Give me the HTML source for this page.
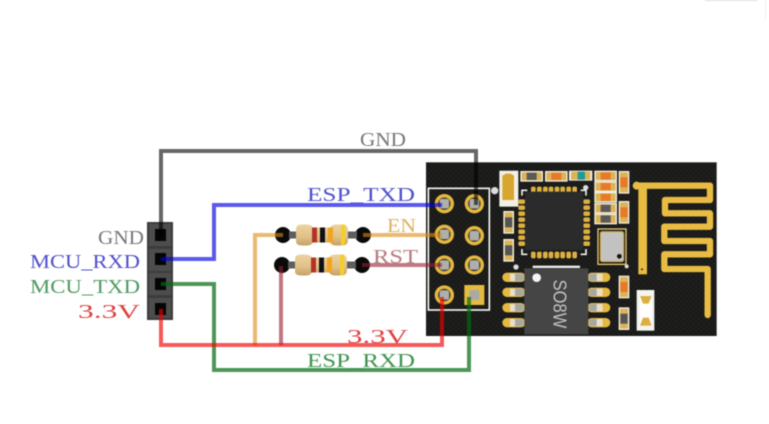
<!DOCTYPE html>
<html><head><meta charset="utf-8"><style>
html,body{margin:0;padding:0;background:#fff}
svg{display:block;filter:blur(.4px)}
text{font-family:"Liberation Serif",serif;font-size:20px}
.w{fill:none;stroke-width:4;stroke-linejoin:miter}
</style></head><body>
<svg width="769" height="424" viewBox="0 0 769 424" xmlns="http://www.w3.org/2000/svg">
<defs>
<pattern id="grid" width="15" height="15" patternUnits="userSpaceOnUse"><rect width="15" height="15" fill="#191917"/><rect width="7" height="7" fill="#20201e"/><rect x="8" y="8" width="7" height="7" fill="#20201e"/></pattern>
<linearGradient id="tan" x1="0" y1="0" x2="0" y2="1"><stop offset="0" stop-color="#ecd3a0"/><stop offset=".6" stop-color="#e0c188"/><stop offset="1" stop-color="#c4a067"/></linearGradient>
<g id="ring"><circle r="29" fill="#e6b93f"/><circle r="19" fill="#4a463c"/><rect x="-14" y="-14" width="28" height="28" rx="6" fill="#b0b0ab"/></g>
<g id="smd"><rect x="-16" y="-34" width="32" height="68" fill="#f2efe6"/><rect x="-12" y="-30" width="24" height="60" fill="#dcb456"/><rect x="-11" y="-15" width="22" height="30" fill="#555"/></g>
<g id="smh"><rect x="-34" y="-16" width="68" height="32" fill="#f2efe6"/><rect x="-30" y="-12" width="60" height="24" fill="#dcb456"/><rect x="-15" y="-11" width="30" height="22" fill="#5a5a58"/></g>
<g id="smo"><rect x="-34" y="-16" width="68" height="32" fill="#f2efe6"/><rect x="-30" y="-12" width="60" height="24" fill="#dcb456"/><rect x="-15" y="-11" width="30" height="22" fill="#e67a28"/></g>
<g id="smv"><rect x="-16" y="-34" width="32" height="68" fill="#f2efe6"/><rect x="-12" y="-30" width="24" height="60" fill="#dcb456"/><rect x="-11" y="-15" width="22" height="30" fill="#e67a28"/></g>
<g id="pinL"><rect x="-33" y="-14" width="70" height="28" rx="14" fill="#e6b93f"/><rect x="-10" y="-11" width="40" height="22" fill="#e8dfc8"/><rect x="5" y="-11" width="25" height="22" fill="#a8a8a2"/></g>
<g id="pinR"><rect x="-37" y="-14" width="70" height="28" rx="14" fill="#e6b93f"/><rect x="-30" y="-11" width="40" height="22" fill="#e8dfc8"/><rect x="-30" y="-11" width="22" height="22" fill="#a8a8a2"/></g>
<g id="res">
<circle cx="-12" r="8" fill="#0a0a0a"/><circle cx="68" r="8" fill="#0a0a0a"/>
<rect x="-6" y="-3.5" width="68" height="7" fill="#5e5e5e"/>
<path d="M1 -6 Q1 -10.5 7 -10.5 H12 Q16 -10.5 18 -7.5 H35 Q37 -10.5 41 -10.5 H47 Q53 -10.5 53 -5 V5 Q53 10.5 47 10.5 H41 Q37 10.5 35 7.5 H18 Q16 10.5 12 10.5 H7 Q1 10.5 1 6Z" fill="url(#tan)"/>
<rect x="17" y="-7.5" width="5" height="15" fill="#b5322a"/>
<rect x="25" y="-7.5" width="5" height="15" fill="#111"/>
<rect x="33" y="-7.5" width="5" height="15" fill="#f2a51e"/>
<rect x="46" y="-10.5" width="4" height="21" fill="#f4cf2a"/>
</g>
</defs>

<line x1="705" y1="0" x2="757" y2="0" stroke="#ddd" stroke-width="2"/>
<line x1="765.5" y1="0" x2="765.5" y2="20" stroke="#f0f0f0"/>

<!-- Board (zoom coordinates) -->
<g transform="translate(420 155) scale(.33333)">
<rect x="18" y="22" width="872" height="521" fill="url(#grid)"/>
<rect x="25" y="100" width="183" height="365" fill="none" stroke="#f4f4f0" stroke-width="5"/>
<circle cx="224" cy="107" r="11" fill="#ddd"/>
<use href="#ring" x="73" y="146"/><use href="#ring" x="163" y="146"/>
<use href="#ring" x="73" y="238"/><use href="#ring" x="163" y="242"/>
<use href="#ring" x="73" y="330"/><use href="#ring" x="163" y="330"/>
<use href="#ring" x="73" y="420"/>
<rect x="133" y="390" width="60" height="60" fill="#e6b93f"/><rect x="148" y="405" width="30" height="30" rx="6" fill="#a9a9a5"/>

<rect x="238" y="47" width="57" height="108" fill="#f2efe6"/>
<path d="M247 62 L258 56 H272 L282 62 V135 H247Z" fill="#d8a530"/>
<use href="#smh" x="335" y="64"/><use href="#smo" x="409" y="64"/>
<rect x="447" y="47" width="70" height="30" fill="#f2efe6"/><rect x="453" y="50" width="58" height="24" fill="#dcb456"/><rect x="473" y="50" width="22" height="24" fill="#1f9a94"/>
<use href="#smo" x="557" y="63"/><use href="#smo" x="557" y="95"/><use href="#smo" x="557" y="127"/>
<use href="#smh" x="557" y="160"/><use href="#smh" x="557" y="192"/>
<use href="#smv" x="612" y="82"/><use href="#smv" x="612" y="172"/>
<use href="#smd" x="266" y="202"/><use href="#smd" x="266" y="286"/>

<!-- QFN -->
<path d="M306 122 V106 H322 M482 106 H498 V122 M498 282 V298 H482 M322 298 H306 V282" fill="none" stroke="#eee" stroke-width="5"/>
<g fill="#dcb040">
<rect x="333" y="95" width="14" height="20" rx="5"/><rect x="351" y="95" width="14" height="20" rx="5"/><rect x="369" y="95" width="14" height="20" rx="5"/><rect x="386" y="95" width="14" height="20" rx="5"/><rect x="404" y="95" width="14" height="20" rx="5"/><rect x="421" y="95" width="14" height="20" rx="5"/><rect x="439" y="95" width="14" height="20" rx="5"/><rect x="457" y="95" width="14" height="20" rx="5"/>
<rect x="333" y="290" width="14" height="20" rx="5"/><rect x="351" y="290" width="14" height="20" rx="5"/><rect x="369" y="290" width="14" height="20" rx="5"/><rect x="386" y="290" width="14" height="20" rx="5"/><rect x="404" y="290" width="14" height="20" rx="5"/><rect x="421" y="290" width="14" height="20" rx="5"/><rect x="439" y="290" width="14" height="20" rx="5"/><rect x="457" y="290" width="14" height="20" rx="5"/>
<rect x="295" y="133" width="20" height="14" rx="5"/><rect x="295" y="151" width="20" height="14" rx="5"/><rect x="295" y="169" width="20" height="14" rx="5"/><rect x="295" y="187" width="20" height="14" rx="5"/><rect x="295" y="205" width="20" height="14" rx="5"/><rect x="295" y="223" width="20" height="14" rx="5"/><rect x="295" y="241" width="20" height="14" rx="5"/><rect x="295" y="259" width="20" height="14" rx="5"/>
<rect x="490" y="133" width="20" height="14" rx="5"/><rect x="490" y="151" width="20" height="14" rx="5"/><rect x="490" y="169" width="20" height="14" rx="5"/><rect x="490" y="187" width="20" height="14" rx="5"/><rect x="490" y="205" width="20" height="14" rx="5"/><rect x="490" y="223" width="20" height="14" rx="5"/><rect x="490" y="241" width="20" height="14" rx="5"/><rect x="490" y="259" width="20" height="14" rx="5"/>
</g>
<rect x="315" y="110" width="175" height="175" fill="#2b2b2b"/>
<circle cx="497" cy="98" r="8" fill="#ddd"/>
<circle cx="288" cy="336" r="8" fill="#ddd"/>
<circle cx="620" cy="334" r="6" fill="#ddd"/>

<!-- crystal -->
<rect x="534" y="222" width="84" height="106" fill="none" stroke="#e6c878" stroke-width="4"/>
<rect x="541" y="230" width="70" height="90" rx="6" fill="#c2c3c0" stroke="#d8a530" stroke-width="3"/>
<circle cx="598" cy="304" r="7" fill="#111"/>

<!-- Antenna -->
<path d="M650 92 H870 V135 H735 V175 H870 V215 H733 V258 H870 V298 H733 V342 H863 V480" fill="none" stroke="#e8bb42" stroke-width="19" stroke-linecap="round" stroke-linejoin="round"/>
<rect x="655" y="92" width="26" height="266" fill="#e8bb42"/>
<circle cx="650" cy="92" r="12" fill="#e8bb42"/>
<circle cx="666" cy="343" r="3" fill="#222"/>

<!-- SOP -->
<rect x="338" y="332" width="142" height="7" fill="#eee"/>
<use href="#pinL" x="280" y="367"/><use href="#pinL" x="280" y="412"/><use href="#pinL" x="280" y="458"/><use href="#pinL" x="280" y="503"/>
<use href="#pinR" x="538" y="367"/><use href="#pinR" x="538" y="412"/><use href="#pinR" x="538" y="458"/><use href="#pinR" x="538" y="503"/>
<rect x="313" y="340" width="192" height="198" fill="#454545"/>
<circle cx="350" cy="368" r="13" fill="#f5f5f5"/>
<text transform="translate(400 374) rotate(90)" textLength="146" lengthAdjust="spacingAndGlyphs" style="font-family:'Liberation Sans',sans-serif;font-size:56px" fill="#c4c4c4">SO8W</text>

<use href="#smv" x="612" y="396"/>
<use href="#smd" x="612" y="491"/>
<rect x="650" y="405" width="53" height="122" fill="#f4f4f0"/>
<rect x="660" y="422" width="34" height="88" fill="#fff"/>
<path d="M660 423 H695 L686 446 H669Z" fill="#dcb040"/><path d="M669 488 H686 L695 512 H660Z" fill="#dcb040"/>
</g>

<!-- Header -->
<rect x="147" y="222" width="26" height="98" fill="#3c3c3c"/>
<g fill="#4d4d4d">
<rect x="149" y="224" width="22" height="22"/><rect x="149" y="249" width="22" height="22"/><rect x="149" y="273" width="22" height="22"/><rect x="149" y="298" width="22" height="20"/>
</g>
<g fill="#050505">
<rect x="155" y="229" width="11" height="12"/><rect x="155" y="253" width="11" height="12"/><rect x="155" y="278" width="11" height="12"/><rect x="155" y="303" width="11" height="12"/>
</g>

<!-- Resistors -->
<use href="#res" x="295" y="235"/>
<use href="#res" x="294" y="265"/>

<!-- Wires -->
<path class="w" d="M161 236 V151 H476 V205" stroke="#000" stroke-opacity=".6"/>
<path class="w" d="M161 259 H214 V205 H442" stroke="#0000e0" stroke-opacity=".65"/>
<path class="w" d="M161 284 H214 V370 H469 V297" stroke="#006b10" stroke-opacity=".7"/>
<path class="w" d="M255 345 V235 H283 M363 235 H442" stroke="#dc8c10" stroke-opacity=".6"/>
<path class="w" d="M281 345 V266 M362 265 H442" stroke="#961e30" stroke-opacity=".6"/>
<path class="w" d="M161 309 V345 H442 V297" stroke="#f00000" stroke-opacity=".65"/>

<!-- Labels -->
<text x="360" y="146" textLength="46" lengthAdjust="spacingAndGlyphs" fill="#777">GND</text>
<text x="307" y="201" textLength="108" lengthAdjust="spacingAndGlyphs" fill="#5050cc">ESP_TXD</text>
<text x="387" y="232" textLength="29" lengthAdjust="spacingAndGlyphs" fill="#e0b060">EN</text>
<text x="373" y="263" textLength="45" lengthAdjust="spacingAndGlyphs" fill="#b87a80">RST</text>
<text x="347" y="343" textLength="61" lengthAdjust="spacingAndGlyphs" fill="#e04040">3.3V</text>
<text x="307" y="367" textLength="108" lengthAdjust="spacingAndGlyphs" fill="#3f9350">ESP_RXD</text>
<text x="98" y="244" textLength="46" lengthAdjust="spacingAndGlyphs" fill="#777">GND</text>
<text x="30" y="268" textLength="110" lengthAdjust="spacingAndGlyphs" fill="#5050cc">MCU_RXD</text>
<text x="30" y="293" textLength="110" lengthAdjust="spacingAndGlyphs" fill="#4f9a60">MCU_TXD</text>
<text x="78" y="318" textLength="62" lengthAdjust="spacingAndGlyphs" fill="#e04040">3.3V</text>
</svg>
</body></html>
